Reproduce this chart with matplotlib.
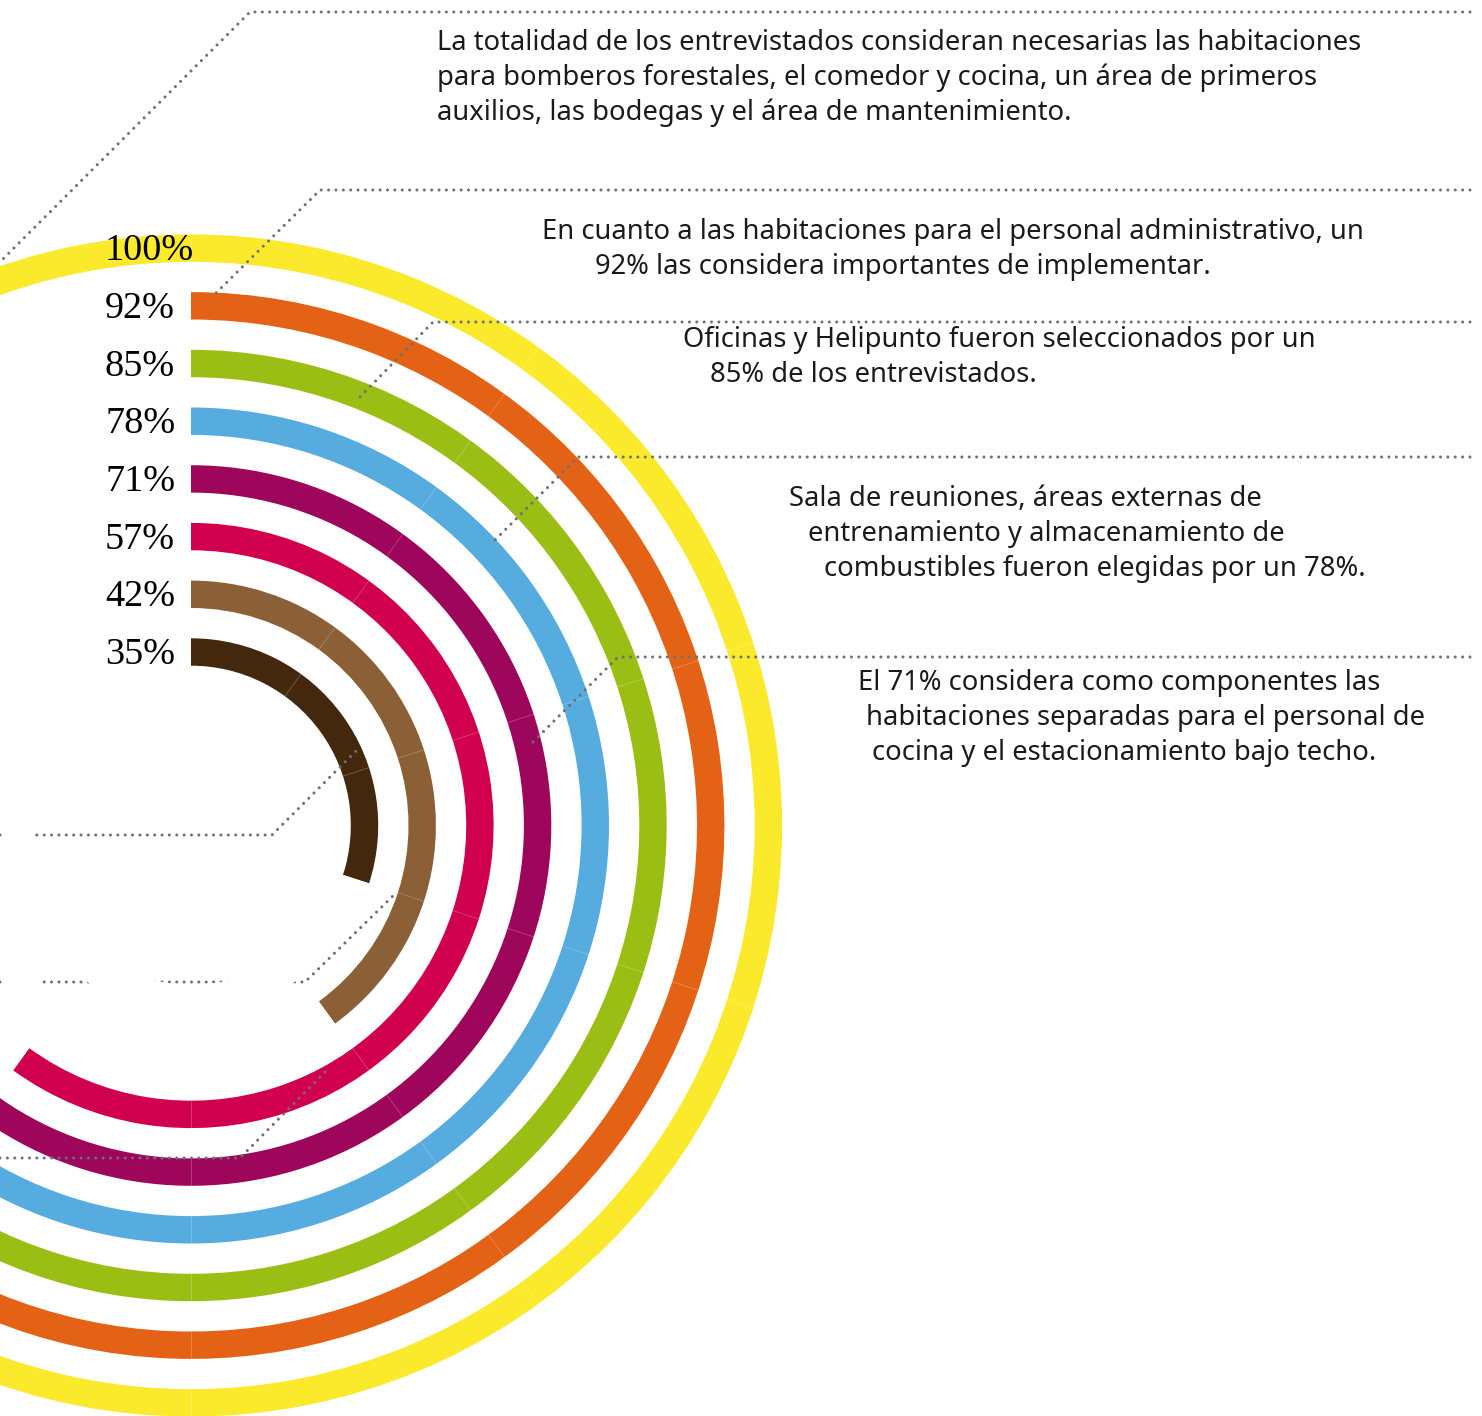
import numpy as np
import matplotlib.pyplot as plt
from matplotlib.patches import Wedge

# Porcentajes de cada componente (anillos de afuera hacia adentro)
valores = [100, 92, 85, 78, 71, 57, 42, 35]
etiquetas = ['100%', '92%', '85%', '78%', '71%', '57%', '42%', '35%']
# largo dibujado de cada arco, en bloques de 10%
bloques = [10, 9, 9, 8, 7, 6, 4, 3]
colores = ['#FAEA2B', '#E46215', '#9BBE14', '#56ABDF', '#9D065A', '#D0004F', '#8C6036', '#43280E']

textos = [
    ["La totalidad de los entrevistados consideran necesarias las habitaciones",
     "para bomberos forestales, el comedor y cocina, un área de primeros",
     "auxilios, las bodegas y el área de mantenimiento."],
    ["En cuanto a las habitaciones para el personal administrativo, un",
     "92% las considera importantes de implementar."],
    ["Oficinas y Helipunto fueron seleccionados por un",
     "85% de los entrevistados."],
    ["Sala de reuniones, áreas externas de",
     "entrenamiento y almacenamiento de",
     "combustibles fueron elegidas por un 78%."],
    ["El 71% considera como componentes las",
     "habitaciones separadas para el personal de",
     "cocina y el estacionamiento bajo techo."],
]
# posicion (x de cada linea, y de la primera linea base)
pos_textos = [
    ([437, 437, 437], 50),
    ([542, 595], 239),
    ([683, 710], 347),
    ([789, 808, 824], 506),
    ([858, 866, 872], 690),
]

# lineas guia punteadas
guias = [
    [(1470, 12), (250, 12), (-60, 322)],
    [(1470, 190), (320, 190), (213, 296)],
    [(1470, 322), (433, 322), (360, 397)],
    [(1470, 457), (578, 457), (491, 544)],
    [(1470, 657), (618, 657), (531, 744)],
    [(0, 835), (272, 835), (359, 748)],
    [(0, 982), (305, 982), (396, 893)],
    [(0, 1158), (240, 1158), (327, 1070)],
]

W, H = 1482, 1416
cx, cy = 191, 825.5
r0, paso, ancho = 187.2, 57.7, 27.4

fig = plt.figure(figsize=(W / 100, H / 100), dpi=100)
ax = fig.add_axes([0, 0, 1, 1])
ax.set_xlim(0, W)
ax.set_ylim(H, 0)
ax.set_axis_off()

n = len(valores)
for i in range(n):
    r_ext = r0 + paso * (n - 1 - i)
    fin = bloques[i] * 36
    ax.add_patch(Wedge((cx, cy), r_ext, -90, -90 + fin, width=ancho,
                       facecolor=colores[i], edgecolor='none', zorder=1))
    if fin < 360:
        ax.add_patch(Wedge((cx, cy), r_ext + 0.5, -90 + fin, 270, width=ancho + 1,
                           facecolor='white', edgecolor='none', zorder=3))
    # costuras entre bloques
    for k in range(1, bloques[i] + (0 if fin < 360 else 1)):
        phi = np.radians(-90 + 36 * k)
        rr = np.array([r_ext - ancho, r_ext])
        ax.plot(cx + rr * np.cos(phi), cy + rr * np.sin(phi), color='white',
                lw=0.5, alpha=0.3, zorder=1.5)
    ax.text(105, cy - r_ext + ancho / 2 + 12, etiquetas[i], fontsize=27.5,
            family='Liberation Serif', color='black', va='baseline', ha='left', zorder=5)

for g in guias:
    xs, ys = zip(*g)
    ax.plot(xs, ys, color='#6F7073', lw=2.2, linestyle=(0, (0.01, 2.4)),
            dash_capstyle='round', zorder=2)

for lineas, (xs, y0) in zip(textos, pos_textos):
    for j, (t, x) in enumerate(zip(lineas, xs)):
        ax.text(x, y0 + 35 * j, t, fontsize=19.7, family='Noto Sans',
                color='#1A1A1A', va='baseline', ha='left', zorder=5)

fig.savefig('out.png', dpi=100)
